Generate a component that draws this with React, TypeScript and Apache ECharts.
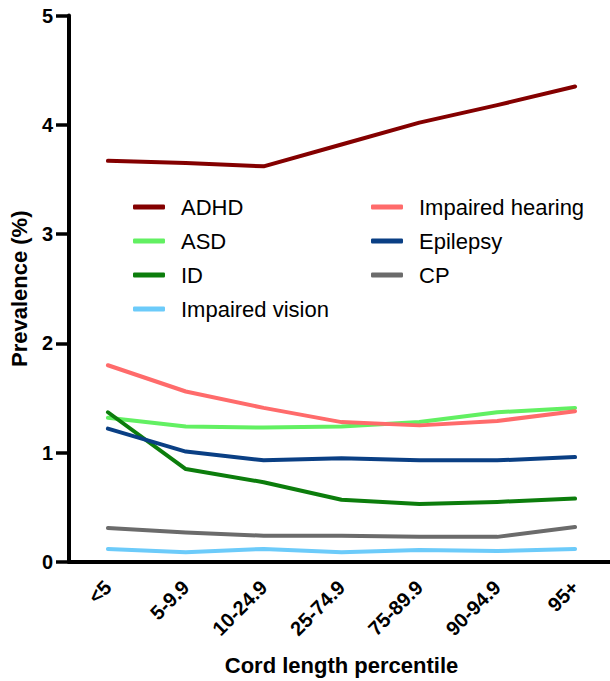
import React, { useEffect, useRef } from "react";
import * as echarts from "echarts";

const categories = ["<5", "5-9.9", "10-24.9", "25-74.9", "75-89.9", "90-94.9", "95+"];
const adhd = [3.67, 3.65, 3.62, 3.82, 4.02, 4.18, 4.35];
const asd = [1.32, 1.24, 1.23, 1.24, 1.28, 1.37, 1.41];
const id = [1.37, 0.85, 0.73, 0.57, 0.53, 0.55, 0.58];
const impairedVision = [0.12, 0.09, 0.12, 0.09, 0.11, 0.1, 0.12];
const impairedHearing = [1.8, 1.56, 1.41, 1.28, 1.25, 1.29, 1.38];
const epilepsy = [1.22, 1.01, 0.93, 0.95, 0.93, 0.93, 0.96];
const cp = [0.31, 0.27, 0.24, 0.24, 0.23, 0.23, 0.32];
const yTicks = { min: 0, max: 5, interval: 1 };

const seriesDefs = [
  { name: "ADHD", data: adhd, color: "#840000" },
  { name: "ASD", data: asd, color: "#62F062" },
  { name: "ID", data: id, color: "#0C7D0C" },
  { name: "Impaired vision", data: impairedVision, color: "#6CCBFA" },
  { name: "Impaired hearing", data: impairedHearing, color: "#FF6B6B" },
  { name: "Epilepsy", data: epilepsy, color: "#0A3F84" },
  { name: "CP", data: cp, color: "#6B6B6B" },
];

const FONT = "'Liberation Sans', Arial, Helvetica, sans-serif";

export default function App() {
  const ref = useRef<HTMLDivElement>(null);
  useEffect(() => {
    if (!ref.current) return;
    const chart = echarts.init(ref.current, null, { renderer: "svg" });
    const legendBase = {
      orient: "vertical" as const,
      top: 196,
      padding: 0,
      itemWidth: 32,
      itemHeight: 5,
      itemGap: 12,
      icon: "roundRect",
      selectedMode: false,
      textStyle: {
        fontSize: 22,
        fontFamily: FONT,
        color: "#000",
        lineHeight: 22,
        padding: [0, 0, 0, 11],
      },
    };
    chart.setOption({
      animation: false,
      backgroundColor: "#fff",
      textStyle: { fontFamily: FONT },
      grid: {
        left: 69,
        top: 15.5,
        width: 545,
        height: 546.5,
        containLabel: false,
        outerBoundsMode: "none",
      },
      legend: [
        { ...legendBase, left: 133, data: ["ADHD", "ASD", "ID", "Impaired vision"] },
        { ...legendBase, left: 371, data: ["Impaired hearing", "Epilepsy", "CP"] },
      ],
      xAxis: {
        type: "category",
        data: categories,
        boundaryGap: true,
        name: "Cord length percentile",
        nameLocation: "middle",
        nameGap: 92,
        nameTextStyle: { fontSize: 22, fontWeight: "bold", color: "#000", fontFamily: FONT },
        axisLine: { lineStyle: { color: "#000", width: 4 } },
        axisTick: { alignWithLabel: true, length: 13, lineStyle: { color: "#000", width: 3.5 } },
        axisLabel: {
          rotate: 45,
          margin: 22,
          fontSize: 20,
          fontWeight: "bold",
          color: "#000",
          fontFamily: FONT,
        },
        splitLine: { show: false },
      },
      yAxis: {
        type: "value",
        min: yTicks.min,
        max: yTicks.max,
        interval: yTicks.interval,
        name: "Prevalence (%)",
        nameLocation: "middle",
        nameGap: 39,
        nameRotate: 90,
        nameTextStyle: { fontSize: 22, fontWeight: "bold", color: "#000", fontFamily: FONT },
        axisLine: { show: true, lineStyle: { color: "#000", width: 4 } },
        axisTick: { show: true, length: 13, lineStyle: { color: "#000", width: 3.5 } },
        axisLabel: { margin: 16, fontSize: 20, fontWeight: "bold", color: "#000", fontFamily: FONT },
        splitLine: { show: false },
      },
      series: seriesDefs.map((s) => ({
        name: s.name,
        type: "line",
        data: s.data,
        symbol: "none",
        itemStyle: { color: s.color },
        lineStyle: { color: s.color, width: 4, cap: "round", join: "round" },
      })),
    });
    return () => chart.dispose();
  }, []);
  return (
    <div
      ref={ref}
      style={{ position: "absolute", left: 0, top: 0, width: 610, height: 681 }}
    />
  );
}
